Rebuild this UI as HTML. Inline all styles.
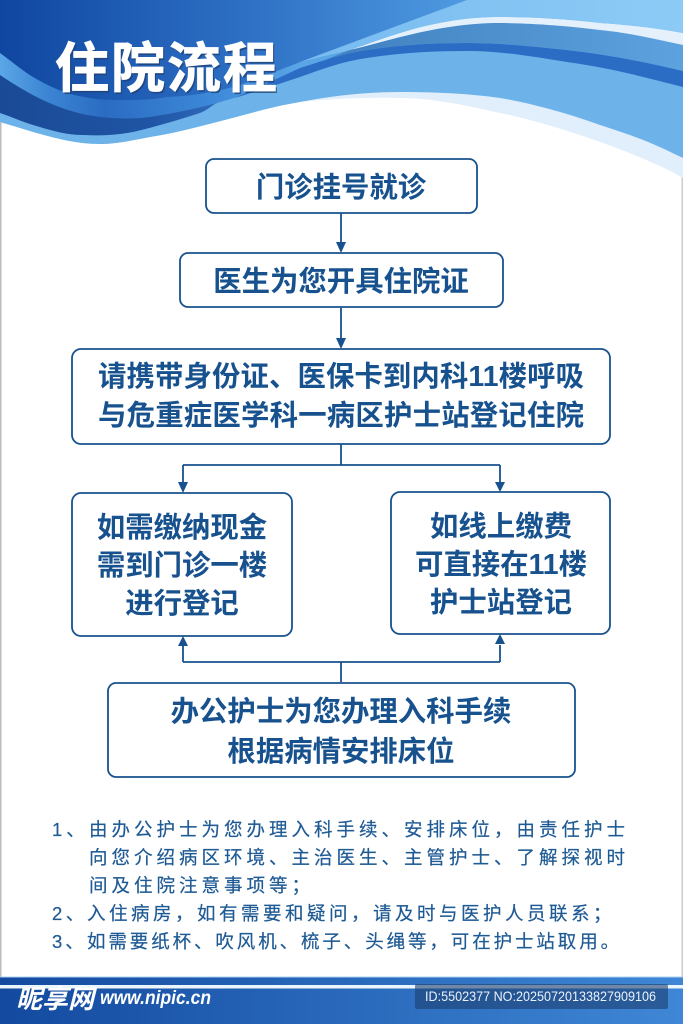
<!DOCTYPE html>
<html><head><meta charset="utf-8">
<style>
html,body{margin:0;padding:0;background:#fff}
svg{display:block}
text{font-family:"Liberation Sans","Noto Sans CJK SC",sans-serif}
.b{font-weight:700;fill:#17528f;text-anchor:middle;font-size:28.4px}
.n{fill:#1f5a94;stroke:#1f5a94;stroke-width:.2;font-size:18.5px;letter-spacing:4px}
rect.box{fill:#fff;stroke:#17528f;stroke-width:1.8}
.l{fill:none;stroke:#17528f;stroke-width:1.8}
.a{fill:#17528f}
</style></head><body>
<svg width="683" height="1024" viewBox="0 0 683 1024" xmlns="http://www.w3.org/2000/svg">
<defs>
<linearGradient id="g1" gradientUnits="userSpaceOnUse" x1="0" x2="467" y1="0" y2="0"><stop offset="0" stop-color="#0f46a0"/><stop offset=".55" stop-color="#2f72c6"/><stop offset="1" stop-color="#4f9ae0"/></linearGradient>
<linearGradient id="g2" gradientUnits="userSpaceOnUse" x1="0" x2="300" y1="0" y2="0"><stop offset="0" stop-color="#5ba6e6"/><stop offset=".15" stop-color="#3d86d4"/><stop offset=".35" stop-color="#2a6cc2"/><stop offset=".7" stop-color="#3d88d8"/><stop offset="1" stop-color="#5aa5e6"/></linearGradient>
<linearGradient id="g3" gradientUnits="userSpaceOnUse" x1="0" x2="217" y1="0" y2="0"><stop offset="0" stop-color="#1a4a96"/><stop offset=".7" stop-color="#1f55a4"/><stop offset="1" stop-color="#2f6bb9"/></linearGradient>
<linearGradient id="g4" gradientUnits="userSpaceOnUse" x1="300" x2="683" y1="0" y2="0"><stop offset="0" stop-color="#3f7dbd"/><stop offset="1" stop-color="#5da2df"/></linearGradient>
<linearGradient id="g5" gradientUnits="userSpaceOnUse" x1="300" x2="683" y1="0" y2="0"><stop offset="0" stop-color="#78bbf0"/><stop offset="1" stop-color="#8dcbf6"/></linearGradient>
<linearGradient id="f" x1="0" x2="1" y1="0" y2="0"><stop offset="0" stop-color="#134a9f"/><stop offset="1" stop-color="#3f87d6"/></linearGradient>
</defs>
<rect width="683" height="1024" fill="#fff"/>
<rect x="0" y="0" width="1.5" height="1024" fill="#bbb"/><rect x="681.5" y="0" width="1.5" height="1024" fill="#ccc"/>
<!-- top waves -->
<path d="M683 178C650 158 560 125 500 113C460 104 430 98 400 98C360 97 330 99 300 102C270 107 245 115 217 122C190 129 170 134 150 137C130 141 115 144 100 144C75 144 55 138 33 132C20 128 10 125 0 122V0H683Z" fill="#e1eefb"/>
<path d="M683 158C650 142 640 138 600 125C570 114 530 103 500 98C465 93 430 92 400 92C365 92 330 96 300 102C270 107 245 115 217 122C190 129 170 134 150 137C130 141 115 144 100 144C75 144 55 138 33 132C20 128 10 125 0 122V0H683Z" fill="#6db3ea"/>
<path d="M0 113C12 117 20 121 33 125C50 130 65 135 83 135C100 136 118 135 133 132C155 127 178 120 200 113C208 110 212 105 217 103L217 0H0Z" fill="url(#g3)"/>
<path d="M0 75C30 95 60 112 100 117C118 119 135 119 150 117C175 113 195 109 217 103C245 95 275 86 300 77L350 50L350 0H0Z" fill="url(#g2)"/>
<path d="M683 87C640 76 610 68 567 62C530 56 500 51 467 51C430 51 400 53 367 58C340 62 320 70 300 77L235 98L300 68C320 62 340 54 367 50C400 45 430 43 467 43C500 43 530 46 567 50C610 55 645 62 683 71Z" fill="#2b6cc4"/>
<path d="M683 71C645 62 610 55 567 50C530 46 500 43 467 43C430 43 400 45 367 50C350 53 340 56 325 60L350 50C370 45 395 38 417 33C445 27 470 23 500 23C530 23 570 26 600 30C630 33 650 38 683 45Z" fill="url(#g4)"/>
<path d="M683 45C650 38 630 33 600 30C570 26 530 23 500 23C470 23 445 27 417 33C395 38 370 45 350 50C370 43 395 34 417 28C445 21 470 17 500 17C530 17 565 19 600 23C630 25 655 28 683 33Z" fill="#e4f1fc"/>
<path d="M683 33C655 28 630 25 600 23C565 19 530 17 500 17C470 17 445 21 417 28C395 34 370 43 350 50L300 62L300 0H683Z" fill="url(#g5)"/>
<path d="M467 0L300 62C280 70 255 80 233 87C210 93 190 96 167 97C150 100 135 100 117 100C100 100 85 98 67 93C55 89 45 84 33 77C20 69 10 60 0 53V0Z" fill="url(#g1)"/>
<!-- title -->
<text x="55" y="87" font-size="54" font-weight="700" fill="#1f3f70" opacity=".75" transform="translate(1.5 2)" style="letter-spacing:2px">住院流程</text>
<text x="55" y="87" font-size="54" font-weight="700" fill="#fff" stroke="#fff" stroke-width=".8" style="letter-spacing:2px">住院流程</text>
<!-- connectors -->
<path class="l" d="M341 213V244M341 308V340M341 444V465M183 465H500M183 465V484M500 465V484M341 682V662M183 662H500M183 662V645M500 662V645"/>
<path class="a" d="M336 242H346L341 253ZM336 338H346L341 349ZM178 482H188L183 493ZM495 482H505L500 492ZM178 646H188L183 636ZM495 644H505L500 634Z"/>
<!-- boxes -->
<rect class="box" x="206" y="159" width="271" height="54" rx="8"/>
<rect class="box" x="180" y="253" width="323" height="54" rx="8"/>
<rect class="box" x="72" y="349" width="538" height="95" rx="9"/>
<rect class="box" x="72" y="493" width="220" height="143" rx="9"/>
<rect class="box" x="391" y="492" width="219" height="142" rx="9"/>
<rect class="box" x="108" y="683" width="467" height="94" rx="8"/>
<text class="b" x="341" y="197">门诊挂号就诊</text>
<text class="b" x="341" y="291">医生为您开具住院证</text>
<text class="b" x="341" y="386" textLength="486" lengthAdjust="spacing">请携带身份证、医保卡到内科11楼呼吸</text>
<text class="b" x="341" y="425" textLength="486" lengthAdjust="spacing">与危重症医学科一病区护士站登记住院</text>
<text class="b" x="182" y="537">如需缴纳现金</text>
<text class="b" x="182" y="575">需到门诊一楼</text>
<text class="b" x="182" y="613">进行登记</text>
<text class="b" x="501" y="536">如线上缴费</text>
<text class="b" x="501" y="574">可直接在11楼</text>
<text class="b" x="501" y="612">护士站登记</text>
<text class="b" x="341" y="721">办公护士为您办理入科手续</text>
<text class="b" x="341" y="761">根据病情安排床位</text>
<!-- notes -->
<text class="n" x="52" y="836">1、<tspan x="89">由办公护士为您办理入科手续、安排床位，由责任护士</tspan></text>
<text class="n" x="89" y="864">向您介绍病区环境、主治医生、主管护士、了解探视时</text>
<text class="n" x="89" y="892">间及住院注意事项等；</text>
<text class="n" x="52" y="920" style="letter-spacing:3.5px">2、<tspan x="87">入住病房，如有需要和疑问，请及时与医护人员联系；</tspan></text>
<text class="n" x="52" y="948" style="letter-spacing:2.9px">3、<tspan x="87">如需要纸杯、吹风机、梳子、头绳等，可在护士站取用。</tspan></text>
<!-- footer -->
<rect x="0" y="977" width="683" height="47" fill="url(#f)"/>
<rect x="0" y="976.5" width="683" height="1" fill="#a8d0f0"/>
<rect x="0" y="985" width="683" height="3.5" fill="#eaf5fd"/>
<text x="16" y="1008" font-size="26" font-weight="700" font-style="italic" fill="#fff">昵享网</text>
<text x="100" y="1004" font-size="19" font-weight="700" font-style="italic" fill="#fff" textLength="111" lengthAdjust="spacingAndGlyphs">www.nipic.cn</text>
<rect x="415" y="984" width="253" height="25" rx="2" fill="#1c3f70" opacity=".6"/>
<text x="425" y="1001" font-size="14" fill="#eaf2fb" textLength="231" lengthAdjust="spacingAndGlyphs">ID:5502377 NO:20250720133827909106</text>
</svg>
</body></html>
